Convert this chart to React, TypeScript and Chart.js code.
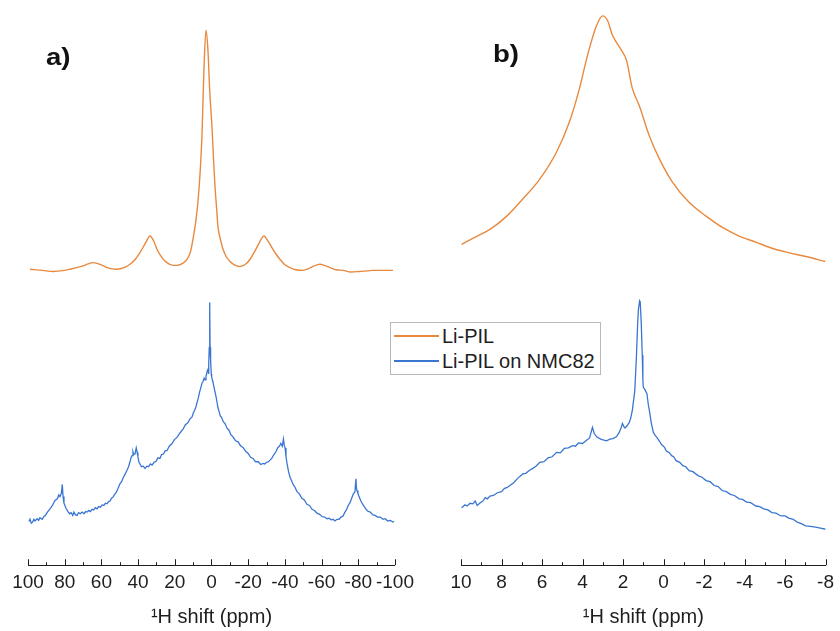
import React, { useEffect, useRef } from "react";
import { Chart, registerables } from "chart.js";

Chart.register(...registerables);

const FONT = "Arial, 'Liberation Sans', Helvetica, sans-serif";
const ORANGE = "#E8893E";
const BLUE = "#3A76D0";
const TEXT = "#1e1e1e";

const SERIES_NAMES = ["Li-PIL", "Li-PIL on NMC82"];
const AXIS_TITLE = "\u00B9H shift (ppm)";
const PANEL_LABELS = ["a)", "b)"];

// Panel a: full spectrum, -100..100 ppm (stacked intensity, a.u.)
const aPpmLiPIL = [98.9, 92, 86.4, 80, 77.1, 70, 64.6, 60, 56.9, 51.5, 47, 44.4, 41.5, 39.0, 36, 33.5, 31.5, 29.7, 27, 24.3, 21, 18.8, 15.5, 13.4, 11.5, 10.1, 8.5, 7.4, 6.2, 5.2, 4.1, 3.0, 1.9, 1.0, -0.3, -1.1, -1.9, -2.8, -3.5, -4.8, -6.3, -8, -10.1, -12.5, -15.5, -18.5, -21.0, -23.5, -25.3, -27, -28.6, -30, -31.9, -35, -37.3, -40, -42.8, -46, -49.9, -53, -55.3, -57.5, -59.1, -61.5, -64.6, -68, -71.7, -76, -80.9, -85, -88.0, -93, -98.9];
const aLiPIL = [53.5, 53.3, 53.1, 53.3, 53.5, 54.1, 54.7, 54.3, 53.8, 53.5, 53.9, 54.4, 55.3, 56.5, 58.2, 59.5, 58.6, 57.1, 55.6, 54.7, 54.2, 54.2, 54.6, 55.3, 56.6, 58.9, 62.3, 65.6, 71.0, 77.6, 89.8, 96.7, 92.9, 86.0, 79.0, 73.5, 68.5, 64.5, 61.3, 59.0, 57.1, 55.8, 54.9, 54.3, 54.0, 54.4, 55.3, 56.7, 57.8, 58.9, 59.5, 59.0, 58.0, 56.3, 55.3, 54.3, 53.8, 53.4, 53.3, 53.6, 54.0, 54.3, 54.4, 54.2, 53.8, 53.4, 53.3, 53.0, 53.1, 53.2, 53.3, 53.3, 53.3];

const aPpmNMC = [99.5, 98.9, 98.2, 97.5, 96.8, 96.2, 95, 94.2, 93.5, 92.2, 91.4, 90.7, 89.4, 88.0, 86.7, 85.3, 84, 83.2, 82.6, 81.8, 81.3, 80.9, 80.4, 79.3, 78.2, 77.3, 76.5, 75.6, 75, 74.1, 73.3, 72.4, 71.5, 70.5, 69.5, 68.6, 67.8, 66.9, 66, 65.1, 64.2, 63.3, 62.4, 61.4, 60.5, 59.6, 58.7, 57.8, 56.9, 56.1, 55.3, 54.5, 53.7, 52.8, 52, 51, 49.9, 49, 48, 47, 46.0, 45.2, 44.5, 43.9, 43.3, 42.8, 42.4, 41.7, 41.0, 40.5, 40.1, 39.5, 38.8, 38.2, 37.2, 36.2, 35.2, 34.3, 33.3, 32.4, 31.3, 30.2, 29.2, 28.1, 27.2, 26.2, 25.2, 24.3, 23, 21.5, 20.2, 18.8, 17.2, 15.5, 14.2, 13, 11.8, 10.6, 9.9, 9.2, 8.5, 7.9, 7.2, 6.5, 5.8, 5.2, 4.6, 4.0, 3.5, 3.0, 2.6, 2.3, 1.9, 1.6, 1.4, 1.2, 1.05, 0.9, 0.75, 0.55, 0.4, 0.1, -0.1, -0.5, -0.8, -1.3, -1.8, -2.4, -3.0, -3.5, -4.1, -4.8, -5.5, -6.5, -7.4, -8.4, -9.5, -10.6, -11.7, -13.1, -14.5, -15.8, -17.2, -18.6, -20, -21.3, -22.6, -24, -25.5, -26.8, -28.1, -29, -30, -31, -31.9, -33, -34, -35.1, -36.2, -37, -37.8, -38.6, -39.2, -39.7, -40.1, -40.6, -41.2, -42, -42.8, -43.6, -44.5, -45.5, -46.6, -47.9, -49.2, -50.6, -52.0, -53.4, -54.8, -56.1, -57.5, -58.9, -60.2, -61.6, -63.0, -64.1, -65.2, -66.3, -67.3, -68.4, -69.5, -70.6, -71.7, -72.6, -73.5, -74.5, -75.5, -76.4, -77.2, -78.2, -78.7, -79.0, -79.3, -79.8, -80.3, -81.4, -82.6, -83.8, -85, -86.5, -88.0, -89.2, -90.5, -92, -93.5, -94.7, -96, -97.5, -98.9, -99.5];
const aNMC = [7.9, 8.3, 7.6, 7.8, 8.3, 8.0, 8.4, 8.1, 8.6, 8.3, 8.8, 8.9, 9.6, 10.2, 10.8, 11.7, 12.0, 12.7, 12.4, 13.0, 14.6, 12.4, 11.2, 10.3, 9.7, 9.3, 9.5, 9.0, 9.6, 9.1, 9.0, 9.5, 9.3, 9.6, 9.3, 9.7, 9.6, 9.9, 9.7, 10.1, 10.0, 10.4, 10.2, 10.6, 10.5, 10.9, 10.8, 11.2, 11.1, 11.5, 11.6, 12.1, 12.3, 12.8, 13.1, 13.8, 14.7, 15.1, 15.9, 16.5, 17.2, 17.8, 18.6, 19.4, 19.8, 20.5, 20.0, 20.1, 21.2, 20.4, 19.6, 18.6, 18.2, 17.8, 17.9, 17.5, 17.9, 17.8, 18.3, 18.1, 18.6, 18.8, 19.4, 19.3, 20.0, 20.1, 20.7, 20.7, 21.5, 22.0, 22.7, 23.1, 23.9, 24.6, 25.4, 25.7, 26.4, 26.8, 27.5, 28.0, 28.6, 29.4, 30.2, 31.3, 32.1, 32.9, 33.2, 33.8, 33.5, 34.2, 34.6, 35.1, 35.4, 34.6, 36.5, 39.5, 38.5, 47.5, 38.8, 39.4, 37.0, 34.5, 34.0, 33.4, 33.1, 32.3, 31.5, 30.6, 29.5, 28.5, 27.8, 27.0, 26.7, 25.9, 25.6, 24.8, 24.4, 23.6, 23.2, 22.5, 22.3, 21.6, 21.3, 20.6, 20.2, 19.5, 19.3, 18.7, 18.7, 18.2, 18.4, 18.3, 18.6, 18.7, 19.0, 19.4, 20.0, 20.5, 21.3, 21.5, 22.0, 21.5, 22.8, 21.6, 21.2, 19.6, 18.3, 16.9, 15.9, 15.3, 14.6, 14.1, 13.3, 12.9, 12.1, 11.8, 11.0, 10.8, 10.1, 9.9, 9.4, 9.2, 8.8, 8.7, 8.4, 8.5, 8.2, 8.3, 8.0, 8.3, 8.3, 8.7, 8.9, 9.5, 10.0, 10.8, 11.3, 12.1, 12.8, 13.3, 15.6, 13.9, 13.5, 13.0, 12.5, 11.6, 10.9, 10.3, 9.8, 9.6, 9.1, 9.0, 8.7, 8.7, 8.3, 8.4, 8.0, 8.1, 7.8, 7.9];

// Panel b: expanded region, -8..10 ppm
const bPpmLiPIL = [9.97, 9.3, 8.57, 7.74, 6.95, 6.11, 5.28, 4.64, 4.15, 3.75, 3.31, 3.01, 2.77, 2.52, 2.08, 1.83, 1.54, 1.20, 0.70, 0.21, -0.43, -1.26, -2.10, -2.89, -3.73, -4.56, -5.35, -6.18, -7.02, -8.0];
const bLiPIL = [58.0, 59.3, 60.7, 63.1, 66.2, 69.8, 74.7, 80.2, 86.2, 92.2, 97.5, 99.3, 98.5, 95.8, 93.1, 91.3, 86.2, 83.1, 77.6, 73.5, 69.3, 65.6, 63.1, 61.1, 59.5, 58.4, 57.3, 56.5, 55.8, 54.9];

const bPpmNMC = [9.97, 9.8, 9.7, 9.55, 9.41, 9.3, 9.2, 9.05, 8.92, 8.8, 8.7, 8.57, 8.4, 8.2, 8.0, 7.85, 7.74, 7.55, 7.4, 7.2, 6.95, 6.8, 6.6, 6.45, 6.3, 6.11, 5.9, 5.7, 5.5, 5.28, 5.1, 4.9, 4.7, 4.49, 4.35, 4.2, 4.0, 3.8, 3.65, 3.51, 3.42, 3.3, 3.1, 2.95, 2.82, 2.65, 2.5, 2.33, 2.2, 2.1, 2.03, 1.95, 1.90, 1.80, 1.69, 1.62, 1.54, 1.42, 1.34, 1.28, 1.24, 1.18, 1.15, 1.10, 1.05, 1.02, 1.00, 0.90, 0.82, 0.75, 0.70, 0.60, 0.50, 0.42, 0.33, 0.2, 0.1, -0.05, -0.13, -0.3, -0.4, -0.5, -0.62, -0.8, -0.95, -1.1, -1.26, -1.45, -1.7, -1.9, -2.10, -2.3, -2.5, -2.7, -2.89, -3.1, -3.3, -3.5, -3.73, -3.9, -4.1, -4.3, -4.56, -4.75, -4.95, -5.15, -5.35, -5.55, -5.8, -6.0, -6.18, -6.4, -6.6, -6.8, -7.02, -7.25, -7.5, -7.75, -8.0];
const bNMC = [10.4, 10.9, 10.7, 11.2, 11.1, 11.6, 10.8, 11.3, 11.6, 12.2, 12.0, 12.5, 12.6, 13.1, 13.3, 13.9, 14.0, 14.5, 14.9, 15.7, 16.5, 16.6, 17.2, 17.5, 17.9, 18.6, 18.7, 19.4, 19.6, 20.4, 20.3, 21.1, 21.2, 21.6, 21.5, 22.1, 22.0, 22.6, 23.0, 24.9, 23.8, 23.2, 22.8, 22.6, 22.5, 22.8, 22.9, 23.2, 23.9, 24.8, 25.6, 25.0, 24.8, 25.2, 25.8, 26.6, 28.0, 31.5, 37.6, 43.5, 46.2, 47.8, 47.6, 43.8, 38.0, 33.5, 32.2, 31.6, 31.0, 29.0, 28.0, 25.6, 24.0, 23.5, 23.1, 22.4, 21.8, 21.3, 20.7, 20.3, 19.8, 19.6, 18.9, 18.6, 18.0, 17.8, 17.1, 16.9, 16.2, 15.9, 15.3, 15.1, 14.4, 14.2, 13.5, 13.3, 12.8, 12.6, 12.0, 11.9, 11.4, 11.3, 10.7, 10.6, 10.2, 10.0, 9.5, 9.4, 8.9, 8.9, 8.5, 8.3, 7.8, 7.5, 7.1, 7.0, 6.9, 6.7, 6.5];

function pts(xs: number[], ys: number[]) {
  return xs.map((x, i) => ({ x, y: ys[i] }));
}

function makeTickPlugin(min: number, max: number, minor: number, major: number) {
  return {
    id: "inwardTicks",
    afterDraw(chart: any) {
      const xs = chart.scales.x;
      const ctx = chart.ctx;
      const y0 = chart.chartArea.bottom;
      ctx.save();
      ctx.strokeStyle = TEXT;
      ctx.lineWidth = 1;
      const n = Math.round((max - min) / minor);
      for (let i = 0; i <= n; i++) {
        const v = min + i * minor;
        const isMajor = Math.abs(v / major - Math.round(v / major)) < 1e-6;
        const px = Math.round(xs.getPixelForValue(v)) + 0.5;
        ctx.beginPath();
        ctx.moveTo(px, y0);
        ctx.lineTo(px, y0 - (isMajor ? 6 : 3));
        ctx.stroke();
      }
      ctx.restore();
    },
  };
}

function makeConfig(
  top: { x: number; y: number }[],
  bottom: { x: number; y: number }[],
  min: number,
  max: number,
  major: number,
  minor: number,
  padLeft: number,
  padRight: number
): any {
  return {
    type: "line",
    data: {
      datasets: [
        { label: SERIES_NAMES[0], data: top, borderColor: ORANGE, borderWidth: 1.4, pointRadius: 0, cubicInterpolationMode: "monotone", fill: false },
        { label: SERIES_NAMES[1], data: bottom, borderColor: BLUE, borderWidth: 1.3, pointRadius: 0, tension: 0, fill: false },
      ],
    },
    options: {
      animation: false,
      responsive: false,
      maintainAspectRatio: false,
      layout: { padding: { left: padLeft, right: padRight, top: 12, bottom: 0 } },
      plugins: { legend: { display: false }, tooltip: { enabled: false }, title: { display: false } },
      scales: {
        x: {
          type: "linear",
          reverse: true,
          min,
          max,
          grid: { display: false, drawTicks: false },
          border: { display: true, color: TEXT, width: 1 },
          ticks: {
            stepSize: major,
            autoSkip: false,
            maxRotation: 0,
            padding: 6,
            color: TEXT,
            font: { family: FONT, size: 19 },
          },
          title: {
            display: true,
            text: AXIS_TITLE,
            color: TEXT,
            font: { family: FONT, size: 20 },
            padding: { top: 5, bottom: 2 },
          },
        },
        y: { type: "linear", display: false, min: 0, max: 100 },
      },
    },
    plugins: [makeTickPlugin(min, max, minor, major)],
  };
}

export default function App() {
  const refA = useRef<HTMLCanvasElement>(null);
  const refB = useRef<HTMLCanvasElement>(null);

  useEffect(() => {
    const a = new Chart(refA.current as HTMLCanvasElement, makeConfig(pts(aPpmLiPIL, aLiPIL), pts(aPpmNMC, aNMC), -100, 100, 20, 10, 28, 25));
    const b = new Chart(refB.current as HTMLCanvasElement, makeConfig(pts(bPpmLiPIL, bLiPIL), pts(bPpmNMC, bNMC), -8, 10, 2, 1, 41, 13));
    return () => {
      a.destroy();
      b.destroy();
    };
  }, []);

  const legendRow = (color: string, label: string, cy: number) => (
    <div style={{ position: "absolute", left: 0, top: cy - 12, height: 24, width: "100%" }}>
      <div style={{ position: "absolute", left: 3, top: 11, width: 45, height: 0, borderTop: `2px solid ${color}` }} />
      <div style={{ position: "absolute", left: 51, top: 0, lineHeight: "24px", fontSize: 20, fontFamily: FONT, color: TEXT, whiteSpace: "nowrap" }}>{label}</div>
    </div>
  );

  const labelStyle = (left: number, top: number): React.CSSProperties => ({
    position: "absolute",
    left,
    top,
    fontFamily: FONT,
    fontWeight: "bold",
    fontSize: 23,
    lineHeight: "23px",
    color: "#111",
    transform: "scaleX(1.2)",
    transformOrigin: "left top",
  });

  return (
    <div style={{ position: "absolute", left: 0, top: 0, width: 840, height: 631, background: "#fff", overflow: "hidden" }}>
      <canvas ref={refA} width={420} height={631} style={{ position: "absolute", left: 0, top: 0, width: 420, height: 631 }} />
      <canvas ref={refB} width={420} height={631} style={{ position: "absolute", left: 420, top: 0, width: 420, height: 631 }} />
      <div style={labelStyle(46, 46)}>{PANEL_LABELS[0]}</div>
      <div style={labelStyle(493, 43)}>{PANEL_LABELS[1]}</div>
      <div style={{ position: "absolute", left: 390, top: 322, width: 211, height: 53, boxSizing: "border-box", border: "1px solid #b9b9b9", background: "#fff" }}>
        {legendRow(ORANGE, SERIES_NAMES[0], 13)}
        {legendRow(BLUE, SERIES_NAMES[1], 38)}
      </div>
    </div>
  );
}
